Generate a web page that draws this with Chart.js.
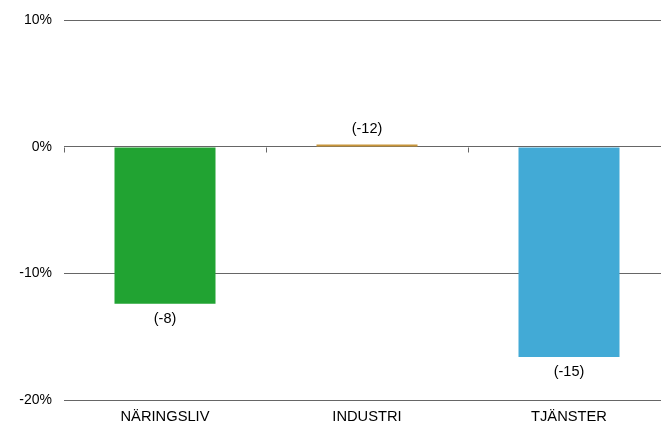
<!DOCTYPE html>
<html>
<head>
<meta charset="utf-8">
<script src="https://cdn.jsdelivr.net/npm/chart.js@4/dist/chart.umd.min.js"></script>
<style>
  html, body { margin: 0; padding: 0; background: #fff; overflow: hidden; }
  #wrap { width: 670px; height: 423px; position: relative; }
</style>
</head>
<body>
<div id="wrap"><canvas id="c"></canvas></div>
<script>
// Sectors and their change in percent
const categories = ['NÄRINGSLIV', 'INDUSTRI', 'TJÄNSTER'];
const changeValues = [-12.4, 0.2, -16.6];
// Bracketed figures printed beside each bar
const bracketLabels = ['(-8)', '(-12)', '(-15)'];
const barColors = ['#21a332', '#c8953a', '#42aad6'];
const yTicks = [10, 0, -10, -20];

const FONT = 'Liberation Sans, Arial, sans-serif';

// Short tick marks along the zero line at category boundaries
const zeroTicks = {
  id: 'zeroTicks',
  afterDatasetsDraw(chart) {
    const { ctx, scales: { x, y } } = chart;
    const y0 = Math.round(y.getPixelForValue(0)) + 0.5;
    ctx.save();
    ctx.strokeStyle = '#666';
    ctx.lineWidth = 1;
    ctx.beginPath();
    for (let i = 0; i <= categories.length; i++) {
      const px = Math.round(x.getPixelForValue(i - 0.5)) + 0.5;
      ctx.moveTo(px, y0);
      ctx.lineTo(px, y0 + 5);
    }
    ctx.stroke();
    ctx.restore();
  }
};

// Bracketed labels placed beyond the end of each bar
const bracketText = {
  id: 'bracketText',
  afterDatasetsDraw(chart) {
    const { ctx } = chart;
    const meta = chart.getDatasetMeta(0);
    ctx.save();
    ctx.font = '14.5px ' + FONT;
    ctx.fillStyle = '#000';
    ctx.textAlign = 'center';
    ctx.textBaseline = 'middle';
    meta.data.forEach((bar, i) => {
      const v = changeValues[i];
      const yy = v < 0 ? bar.y + 15 : bar.y - 15;
      ctx.fillText(bracketLabels[i], bar.x, yy);
    });
    ctx.restore();
  }
};

new Chart(document.getElementById('c'), {
  type: 'bar',
  data: {
    labels: categories,
    datasets: [{
      data: changeValues,
      backgroundColor: barColors,
      borderWidth: 0,
      barPercentage: 0.5,
      categoryPercentage: 1.0
    }]
  },
  options: {
    responsive: true,
    maintainAspectRatio: false,
    animation: false,
    layout: { padding: { top: 20, left: 0, right: 0, bottom: 0 } },
    plugins: {
      legend: { display: false },
      tooltip: { enabled: false }
    },
    scales: {
      x: {
        offset: true,
        grid: { display: false, drawTicks: false },
        border: { display: false },
        ticks: { color: '#000', font: { family: FONT, size: 14.7 }, padding: 8, maxRotation: 0 },
        afterFit(s) { s.height = 23; }
      },
      y: {
        min: -20,
        max: 10,
        afterBuildTicks(s) { s.ticks = yTicks.map(v => ({ value: v })); },
        grid: {
          color: '#666',
          lineWidth: 1,
          drawTicks: false
        },
        border: { display: false },
        ticks: {
          color: '#000',
          font: { family: FONT, size: 14 },
          padding: 12,
          callback: v => v + '%'
        },
        afterFit(s) { s.width = 64; }
      }
    }
  },
  plugins: [zeroTicks, bracketText]
});
</script>
</body>
</html>
